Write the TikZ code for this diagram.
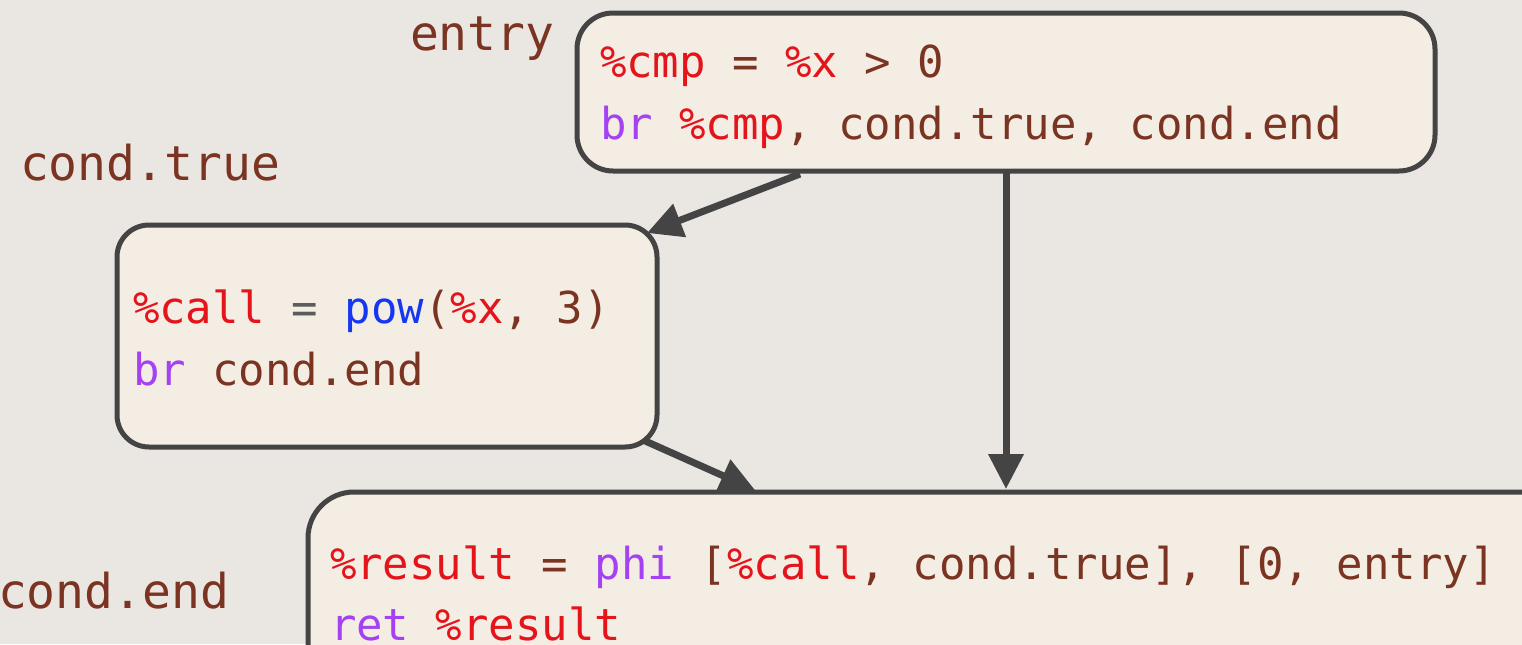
\documentclass[tikz,border=0pt]{standalone}
\usepackage{fontspec}
\setmonofont{DejaVu Sans Mono}
\usetikzlibrary{arrows.meta,calc}
\definecolor{bgc}{HTML}{EAE7E3}
\definecolor{boxfill}{HTML}{F3EDE4}
\definecolor{edge}{HTML}{444444}
\definecolor{brn}{HTML}{7A3421}
\definecolor{rd}{HTML}{E5141B}
\definecolor{prp}{HTML}{A541F2}
\definecolor{blu}{HTML}{1537F2}
\definecolor{gry}{HTML}{5C5C5C}
\tikzset{
 block/.style={draw=edge, fill=boxfill, line width=2.5pt, outer sep=0pt, inner sep=0pt, rectangle},
 codeline/.style={anchor=base west, inner sep=0pt, outer sep=0pt, font=\ttfamily\fontsize{22}{31}\selectfont, text=brn},
 blocklabel/.style={anchor=base west, inner sep=0pt, outer sep=0pt, font=\ttfamily\fontsize{24}{30}\selectfont, text=brn},
 flow/.style={draw=edge, line width=3.5pt, -{Triangle[length=17.5pt,width=17pt]}},
}
\begin{document}
\begin{tikzpicture}[x=0.5pt,y=-0.5pt]
\fill[bgc] (0,0) rectangle (1522,644);
\useasboundingbox (0,0) rectangle (1522,644);
\clip (0,0) rectangle (1522,644);

% blocks
\node[block, rounded corners=18pt, minimum width=429pt, minimum height=79pt] (entry) at (1006,92) {};
\node[block, rounded corners=16pt, minimum width=270pt, minimum height=111pt] (ctrue) at (387,336) {};
\node[block, rounded corners=23pt, minimum width=696pt, minimum height=154pt] (cend) at (1004,646) {};

% block labels
\node[blocklabel] (lentry) at (410,50) {entry};
\node[blocklabel] (lctrue) at (20,180) {cond.true};
\node[blocklabel] (lcend) at (-2,608) {cond.end};

% code
\node[codeline] (e1) at (600,77) {\textcolor{rd}{\%cmp} = \textcolor{rd}{\%x} > 0};
\node[codeline] (e2) at (600,139) {\textcolor{prp}{br} \textcolor{rd}{\%cmp}, cond.true, cond.end};
\node[codeline] (c1) at (133,323) {\textcolor{rd}{\%call} \textcolor{gry}{=} \textcolor{blu}{pow}(\textcolor{rd}{\%x}, 3)};
\node[codeline] (c2) at (133,385) {\textcolor{prp}{br} cond.end};
\node[codeline] (b1) at (330,579) {\textcolor{rd}{\%result} = \textcolor{prp}{phi} [\textcolor{rd}{\%call}, cond.true], [0, entry]};
\node[codeline] (b2) at (330,640) {\textcolor{prp}{ret} \textcolor{rd}{\%result}};

% connectors
\draw[flow] ($(entry.south west)+(223,3)$) -- ($(ctrue.north east)+(-10,8)$);
\draw[flow] (entry.south) -- ($(cend.north)+(2,-3)$);
\draw[flow] ($(ctrue.south east)+(-14,-7)$) -- ($(cend.north west)+(447,-2)$);
\end{tikzpicture}
\end{document}
